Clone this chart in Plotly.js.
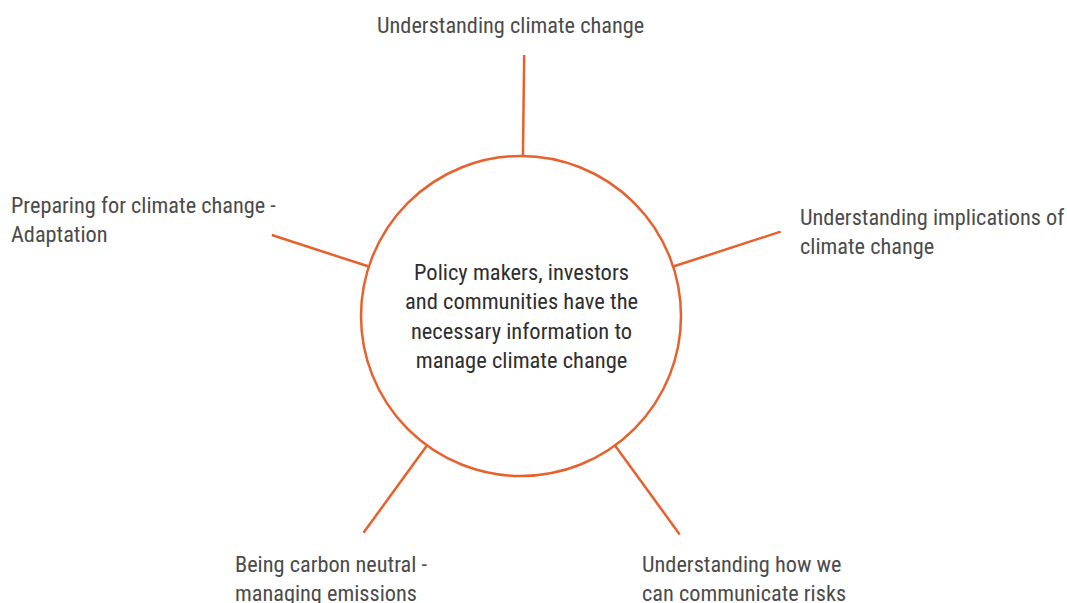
<!DOCTYPE html>
<html>
<head>
<meta charset="utf-8">
<script src="https://cdn.plot.ly/plotly-3.0.1.min.js"></script>
<style>html,body{margin:0;padding:0;background:#fff;}#chart{width:1067px;height:603px;}</style>
</head>
<body>
<div id="chart"></div>
<script>
// ---- data ----
const centerText = ["Policy makers, investors", "and communities have the", "necessary information to", "manage climate change"];
const labels = [
  ["Understanding climate change"],
  ["Understanding implications of", "climate change"],
  ["Understanding how we", "can communicate risks"],
  ["Being carbon neutral -", "managing emissions"],
  ["Preparing for climate change -", "Adaptation"]
];
const spokeAngles = [89.3, 18, -54, -126, 162];   // degrees, counter-clockwise from east
const spokeLengths = [101, 113, 110, 108, 102];  // length beyond the circle

// ---- layout (positions / styles) ----
const cx = 521, cy = 316, r = 160;
const orange = "#e8602c";
const textColor = "#4b4b4b";
const fontFam = "'Roboto Condensed', 'Liberation Sans Narrow', Roboto, sans-serif";
const labelPos = [
  {x: 510, y: 25, xanchor: "center", align: "center"},
  {x: 798, y: 231, xanchor: "left", align: "left"},
  {x: 640, y: 578, xanchor: "left", align: "left"},
  {x: 233, y: 578, xanchor: "left", align: "left"},
  {x: 9, y: 219, xanchor: "left", align: "left"}
];

const traces = spokeAngles.map((a, i) => {
  const t = a * Math.PI / 180;
  const x0 = cx + r * Math.cos(t), y0 = cy - r * Math.sin(t);
  const x1 = cx + (r + spokeLengths[i]) * Math.cos(t), y1 = cy - (r + spokeLengths[i]) * Math.sin(t);
  return {x: [x0, x1], y: [y0, y1], mode: "lines", type: "scatter",
          line: {color: orange, width: 2.5}, hoverinfo: "skip", showlegend: false};
});

const annotations = labels.map((l, i) => ({
  x: labelPos[i].x, y: labelPos[i].y, xref: "x", yref: "y",
  text: l.join("<br>"), showarrow: false,
  xanchor: labelPos[i].xanchor, yanchor: "middle", align: labelPos[i].align,
  font: {family: fontFam, size: 22.3, color: textColor}
}));
annotations.push({
  x: cx, y: cy, xref: "x", yref: "y", text: centerText.join("<br>"), showarrow: false,
  xanchor: "center", yanchor: "middle", align: "center",
  font: {family: fontFam, size: 22.5, color: "#2e2e2e", weight: 400}
});

const layout = {
  width: 1067, height: 603,
  margin: {l: 0, r: 0, t: 0, b: 0},
  paper_bgcolor: "#ffffff", plot_bgcolor: "#ffffff",
  xaxis: {range: [0, 1067], visible: false, fixedrange: true},
  yaxis: {range: [603, 0], visible: false, fixedrange: true},
  shapes: [{type: "circle", xref: "x", yref: "y", x0: cx - r, x1: cx + r, y0: cy - r, y1: cy + r,
            line: {color: orange, width: 2.5}, fillcolor: "rgba(0,0,0,0)"}],
  annotations: annotations
};

Plotly.newPlot("chart", traces, layout, {displayModeBar: false, staticPlot: true});
</script>
</body>
</html>
